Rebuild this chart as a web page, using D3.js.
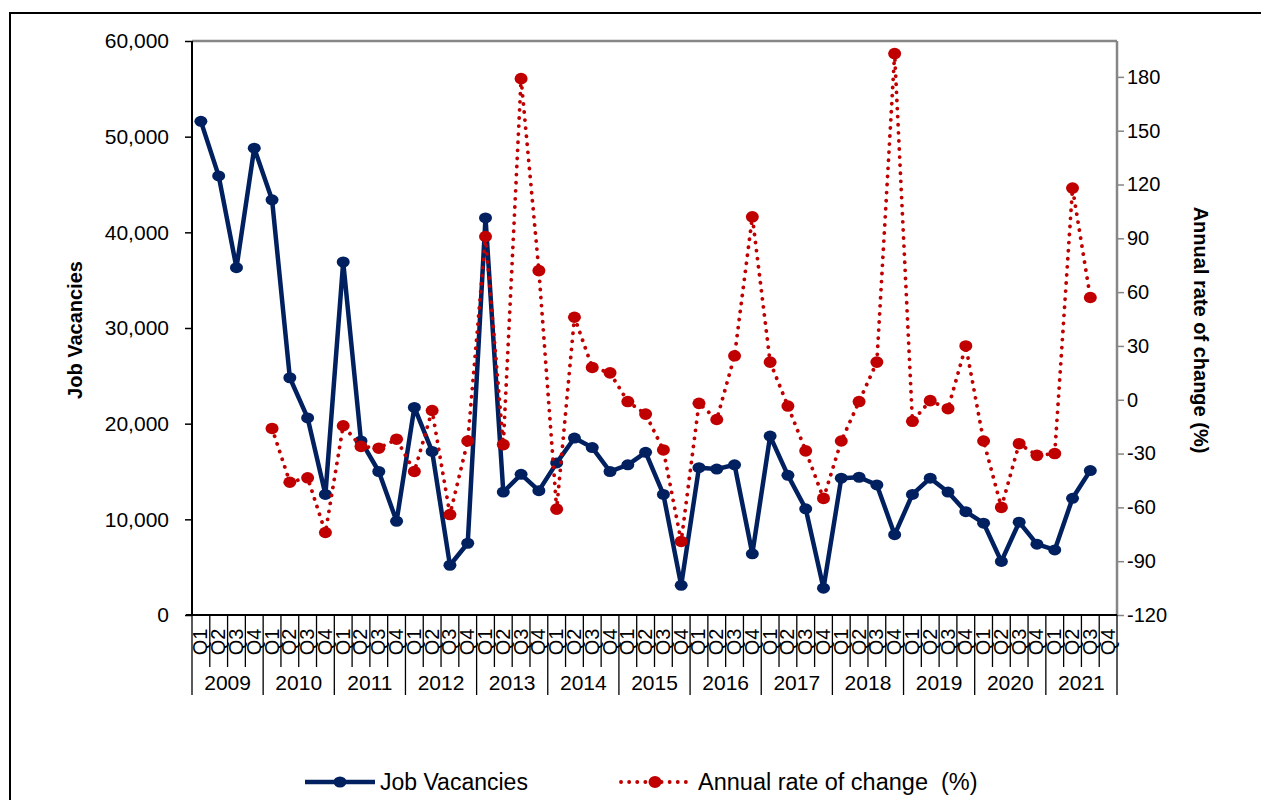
<!DOCTYPE html>
<html><head><meta charset="utf-8">
<script src="https://cdn.jsdelivr.net/npm/d3@7"></script>
<style>
html,body{margin:0;padding:0;background:#fff;}
svg{display:block;font-family:"Liberation Sans",Arial,sans-serif;}
</style></head>
<body><svg id="c" width="1261" height="800"></svg>
<script>
const years = ["2009","2010","2011","2012","2013","2014","2015","2016","2017","2018","2019","2020","2021"];
const quarters = ["Q1","Q2","Q3","Q4"];
const vacancies = [
 51600,45900,36300,48800,
 43400,24800,20600,12600,
 36900,18200,15000,9800,
 21700,17100,5200,7500,
 41500,12850,14700,13000,
 15900,18500,17500,15000,
 15700,17000,12600,3100,
 15400,15250,15700,6400,
 18700,14600,11100,2800,
 14300,14400,13600,8400,
 12600,14300,12850,10800,
 9600,5600,9700,7400,
 6800,12200,15100,null];
const rateChange = [
 null,null,null,null,
 -16,-46,-43.5,-74,
 -14.5,-26,-27,-22,
 -40,-6,-64,-23,
 91,-25,179,72,
 -61,46,18,15,
 -1,-8,-28,-79,
 -2,-11,24.5,102,
 21,-3.5,-28.5,-55,
 -23,-1,21,193,
 -12,-0.5,-5,30,
 -23,-60,-24.5,-31,
 -30,118,57,null];
const leftTicks = [0,10000,20000,30000,40000,50000,60000];
const rightTicks = [-120,-90,-60,-30,0,30,60,90,120,150,180];
const seriesNames = ["Job Vacancies","Annual rate of change  (%)"];

const svg = d3.select("#c");
const L=192, R=1117, T=41, B=615;
const blue="#002060", red="#C00000", grey="#868686";

// outer frame
svg.append("rect").attr("x",10).attr("y",13).attr("width",1262).attr("height",800)
  .attr("fill","none").attr("stroke","#000").attr("stroke-width",2);

const cats = [];
years.forEach(y=>quarters.forEach(q=>cats.push(y+" "+q)));
const x = d3.scaleBand().domain(d3.range(cats.length)).range([L,R]).padding(0);
const bw = x.bandwidth();
const cx = i => x(i)+bw/2;
const yL = d3.scaleLinear().domain([0,60000]).range([B,T]);
const yR = d3.scaleLinear().domain([-120,200]).range([B,T]);

// plot area border (grey top and right)
svg.append("line").attr("x1",L).attr("x2",R).attr("y1",T).attr("y2",T).attr("stroke",grey).attr("stroke-width",2.5);

// right axis
const gR = svg.append("g").attr("transform",`translate(${R},0)`)
  .call(d3.axisRight(yR).tickValues(rightTicks).tickSize(7).tickPadding(3).tickFormat(d=>d));
gR.select(".domain").attr("stroke",grey).attr("stroke-width",2.5).attr("d",`M0,${T}V${B}`);
gR.selectAll(".tick line").attr("stroke",grey).attr("stroke-width",1.5);
gR.selectAll("text").attr("font-size",20).attr("fill","#000").attr("font-family","Liberation Sans, Arial, sans-serif");

// left axis
const gL = svg.append("g").attr("transform",`translate(${L},0)`)
  .call(d3.axisLeft(yL).tickValues(leftTicks).tickSize(7).tickPadding(16).tickFormat(d3.format(",")));
gL.select(".domain").attr("stroke","#000").attr("stroke-width",2).attr("d",`M0,${T}V${B}`);
gL.selectAll(".tick line").attr("stroke","#000").attr("stroke-width",1.5);
gL.selectAll("text").attr("font-size",21).attr("fill","#000").attr("font-family","Liberation Sans, Arial, sans-serif");

// bottom axis
svg.append("line").attr("x1",L-6).attr("x2",R).attr("y1",B).attr("y2",B).attr("stroke","#000").attr("stroke-width",2);
const gx = svg.append("g");
d3.range(cats.length+1).forEach(i=>{
  const xx = i<cats.length ? x(i) : R;
  const isYear = i%4===0;
  gx.append("line").attr("x1",xx).attr("x2",xx).attr("y1",B).attr("y2",isYear?695:667)
    .attr("stroke","#000").attr("stroke-width",1.3);
});
cats.forEach((c,i)=>{
  gx.append("text").attr("transform",`translate(${cx(i)+6.5},642) rotate(-90)`)
    .attr("text-anchor","middle").attr("font-size",20).text(quarters[i%4]);
});
years.forEach((yv,j)=>{
  const x0 = x(j*4), x1 = j*4+4<cats.length ? x(j*4+4) : R;
  gx.append("text").attr("x",(x0+x1)/2).attr("y",690).attr("text-anchor","middle")
    .attr("font-size",21).text(yv);
});

// axis titles
svg.append("text").attr("transform","translate(82,330) rotate(-90)").attr("text-anchor","middle")
  .attr("font-size",20).attr("font-weight","bold").text("Job Vacancies");
svg.append("text").attr("transform","translate(1194,330) rotate(90)").attr("text-anchor","middle")
  .attr("font-size",20).attr("font-weight","bold").text("Annual rate of change (%)");

// series lines
const lineL = d3.line().defined(d=>d.v!=null).x(d=>cx(d.i)).y(d=>yL(d.v));
const lineR = d3.line().defined(d=>d.v!=null).x(d=>cx(d.i)).y(d=>yR(d.v));
const vData = vacancies.map((v,i)=>({i,v}));
const rData = rateChange.map((v,i)=>({i,v}));

svg.append("path").attr("d",lineL(vData)).attr("fill","none").attr("stroke",blue).attr("stroke-width",4.5).attr("stroke-linejoin","round");
svg.selectAll(".mv").data(vData.filter(d=>d.v!=null)).enter().append("ellipse")
  .attr("cx",d=>cx(d.i)).attr("cy",d=>yL(d.v)).attr("rx",6.5).attr("ry",5.5).attr("fill",blue);

svg.append("path").attr("d",lineR(rData)).attr("fill","none").attr("stroke",red).attr("stroke-width",3.8)
  .attr("stroke-dasharray","0.1,8").attr("stroke-linecap","round");
svg.selectAll(".mr").data(rData.filter(d=>d.v!=null)).enter().append("ellipse")
  .attr("cx",d=>cx(d.i)).attr("cy",d=>yR(d.v)).attr("rx",6.5).attr("ry",5.8).attr("fill",red);

// legend
const lg = svg.append("g");
lg.append("line").attr("x1",305).attr("x2",375).attr("y1",782).attr("y2",782).attr("stroke",blue).attr("stroke-width",4.5);
lg.append("ellipse").attr("cx",340).attr("cy",782).attr("rx",6.5).attr("ry",5.5).attr("fill",blue);
lg.append("text").attr("x",380).attr("y",790).attr("font-size",23).text(seriesNames[0]);
lg.append("line").attr("x1",621).attr("x2",690).attr("y1",782).attr("y2",782).attr("stroke",red).attr("stroke-width",3.8)
  .attr("stroke-dasharray","0.1,8").attr("stroke-linecap","round");
lg.append("ellipse").attr("cx",655).attr("cy",782).attr("rx",6.5).attr("ry",6).attr("fill",red);
lg.append("text").attr("x",698).attr("y",790).attr("font-size",23.5).style("white-space","pre").text(seriesNames[1]);
</script></body></html>
